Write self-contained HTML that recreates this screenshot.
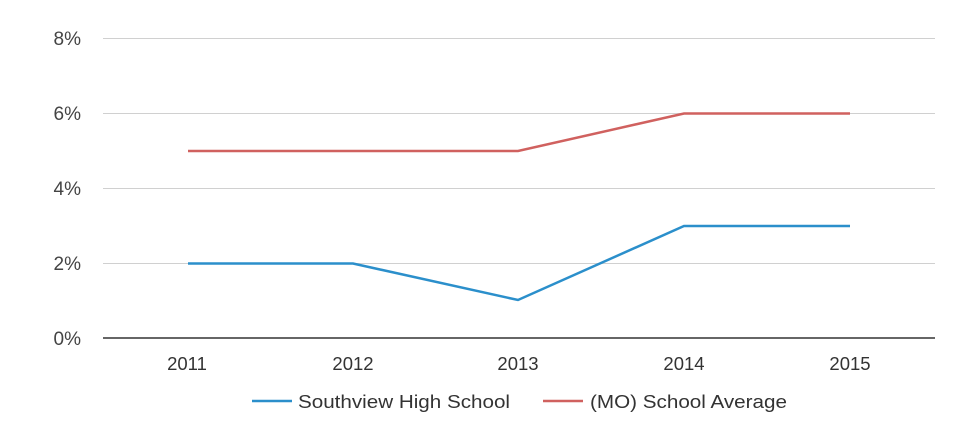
<!DOCTYPE html>
<html><head><meta charset="utf-8"><style>
body{margin:0;background:#fff;}
svg{display:block;font-family:"Liberation Sans",Arial,sans-serif;}
</style></head><body>
<svg width="980" height="430" xmlns="http://www.w3.org/2000/svg">
<g stroke="#d0d0d0" stroke-width="1">
<line x1="103" y1="38.5" x2="935" y2="38.5"/>
<line x1="103" y1="113.5" x2="935" y2="113.5"/>
<line x1="103" y1="188.5" x2="935" y2="188.5"/>
<line x1="103" y1="263.5" x2="935" y2="263.5"/>
</g>
<line x1="103" y1="338" x2="935" y2="338" stroke="#333" stroke-width="1.5"/>
<g font-size="19" fill="#444" text-anchor="end">
<text x="81" y="45">8%</text>
<text x="81" y="120">6%</text>
<text x="81" y="195">4%</text>
<text x="81" y="270">2%</text>
<text x="81" y="345">0%</text>
</g>
<g font-size="18.5" fill="#333" text-anchor="middle">
<text x="187" y="370">2011</text>
<text x="353" y="370">2012</text>
<text x="518" y="370">2013</text>
<text x="684" y="370">2014</text>
<text x="850" y="370">2015</text>
</g>
<polyline points="188,151 353,151 518,151 684,113.5 850,113.5" fill="none" stroke="#d0615f" stroke-width="2.5"/>
<polyline points="188,263.5 353,263.5 518,300 684,226 850,226" fill="none" stroke="#2b8fcb" stroke-width="2.5"/>
<line x1="252" y1="401" x2="292" y2="401" stroke="#2b8fcb" stroke-width="2.5"/>
<text x="298" y="408" font-size="18.5" fill="#333" textLength="212" lengthAdjust="spacingAndGlyphs">Southview High School</text>
<line x1="543" y1="401" x2="583" y2="401" stroke="#d0615f" stroke-width="2.5"/>
<text x="590" y="408" font-size="18.5" fill="#333" textLength="197" lengthAdjust="spacingAndGlyphs">(MO) School Average</text>
</svg>
</body></html>
